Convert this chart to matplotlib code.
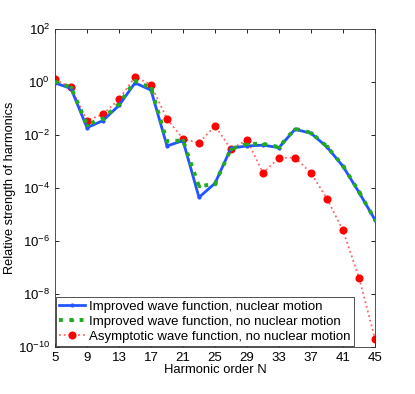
import numpy as np
import matplotlib
matplotlib.use('Agg')
import matplotlib.pyplot as plt

plt.rcParams['font.family'] = ['Liberation Sans', 'DejaVu Sans']
plt.rcParams['mathtext.fontset'] = 'custom'
plt.rcParams['mathtext.rm'] = 'Liberation Sans'

# harmonic orders
N = [5, 7, 9, 11, 13, 15, 17, 19, 21, 23, 25, 27, 29, 31, 33, 35, 37, 39, 41, 43, 45]

# log10 of relative strength
log_nuc = [-0.03, -0.24, -1.72, -1.45, -0.88, -0.03, -0.30, -2.41, -2.21, -4.35, -3.82,
           -2.49, -2.41, -2.38, -2.47, -1.78, -1.93, -2.45, -3.18, -4.16, -5.2]
log_nonuc = [0.02, -0.2, -1.6, -1.38, -0.82, 0.05, -0.22, -2.24, -2.2, -3.94, -3.84,
             -2.52, -2.33, -2.33, -2.45, -1.76, -1.91, -2.43, -3.16, -4.14, -5.2]
log_asym = [0.1, -0.2, -1.45, -1.21, -0.65, 0.2, -0.1, -1.39, -2.14, -2.30, -1.65,
            -2.53, -2.18, -3.43, -2.86, -2.85, -3.43, -4.4, -5.6, -7.38, -9.7]

labels = ['Improved wave function, nuclear motion',
          'Improved wave function, no nuclear motion',
          'Asymptotic wave function, no nuclear motion']

y_nuc = 10.0 ** np.array(log_nuc)
y_nonuc = 10.0 ** np.array(log_nonuc)
y_asym = 10.0 ** np.array(log_asym)

fig = plt.figure(figsize=(4.15, 3.94), dpi=100)
ax = fig.add_axes([0.1325, 0.1193, 0.7711, 0.8067])

ax.plot(N, y_nuc, '-', color='#2255ff', lw=2, marker='.', ms=4, label=labels[0], zorder=3)
ax.plot(N, y_nonuc, ':', color='#22aa22', lw=2.8, marker='.', ms=3, label=labels[1], zorder=4)
ax.plot(N, y_asym, ':', color='#ff6666', lw=1.3, label=labels[2], zorder=2,
        marker='o', mfc='red', mec='red', ms=4.8)

ax.set_yscale('log')
ax.set_xlim(5, 45)
ax.set_ylim(1e-10, 1e2)
ax.set_xticks(range(5, 46, 4))
ax.set_yticks([10.0 ** k for k in range(-10, 3, 2)])
ax.minorticks_off()
ax.tick_params(direction='in', top=True, right=True, labelsize=9.5, length=3, width=0.6)
for s in ax.spines.values():
    s.set_linewidth(0.6)
    s.set_color('#333333')

ax.set_xlabel('Harmonic order N', fontsize=9.4, labelpad=0)
ax.set_ylabel('Relative strength of harmonics', fontsize=9.2, labelpad=1)

leg = ax.legend(loc='lower left', fontsize=9.5, borderaxespad=0.05, handlelength=2.0,
                handletextpad=0.3, labelspacing=0.22, borderpad=0.25, fancybox=False,
                framealpha=1)
leg.get_frame().set_edgecolor('#333333')
leg.get_frame().set_linewidth(0.6)

fig.savefig('out.png', dpi=100)
